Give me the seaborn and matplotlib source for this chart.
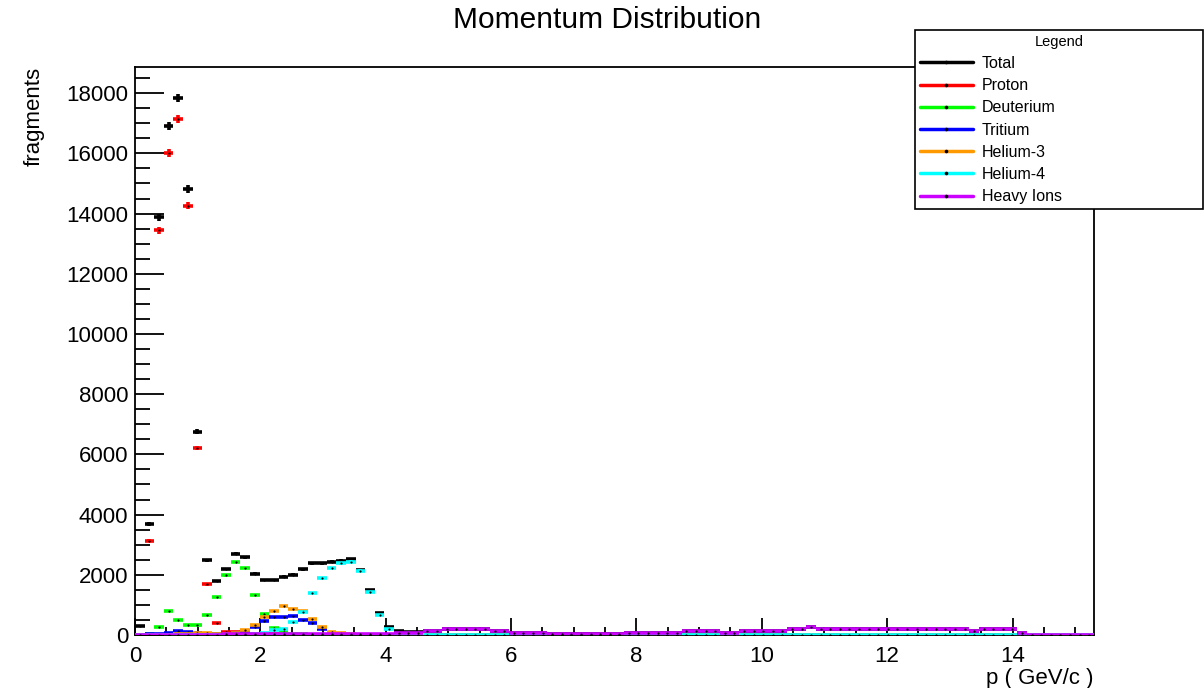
import numpy as np
import seaborn as sns
import matplotlib.pyplot as plt
from matplotlib.lines import Line2D
from matplotlib.ticker import MultipleLocator

# histogram binning: 100 bins from 0 to 15.3 GeV/c
p_min, p_max, n_bins = 0.0, 15.3, 100

# bin contents
total = [
    300, 3690, 13880, 16910, 17830, 14820, 6750, 2490, 1790, 2190,
    2700, 2590, 2040, 1830, 1830, 1940, 2000, 2180, 2380, 2380,
    2440, 2470, 2515, 2160, 1495, 720, 250, 120, 85, 90,
    140, 140, 200, 200, 200, 200, 200, 140, 140, 75,
    75, 75, 75, 25, 25, 25, 25, 25, 25, 25,
    25, 75, 75, 75, 75, 75, 75, 140, 140, 140,
    140, 75, 75, 140, 140, 140, 140, 140, 200, 200,
    275, 200, 200, 200, 200, 200, 200, 200, 200, 200,
    200, 200, 200, 200, 200, 200, 200, 140, 200, 200,
    200, 200, 75, 0, 0, 0, 0, 0, 0, 0,
]
# light fragments only populate the first 30 bins
proton = [0, 3130, 13450, 16020, 17130, 14260, 6210, 1680, 390, 100,
          90, 40, 40, 20, 20, 10, 10, 10, 0, 0]
deuterium = [0, 30, 280, 790, 490, 320, 320, 675, 1270, 1980,
             2425, 2225, 1340, 690, 220, 100, 30, 20, 10, 10]
tritium = [0, 20, 40, 80, 140, 110, 60, 30, 20, 30,
           60, 110, 255, 475, 590, 590, 630, 500, 390, 190,
           80, 30, 10]
helium3 = [0, 0, 0, 0, 20, 30, 50, 50, 40, 30,
           60, 165, 330, 600, 800, 975, 865, 810, 530, 275,
           110, 55, 20, 10]
helium4 = [0, 0, 0, 0, 0, 0, 0, 0, 0, 0,
           0, 10, 30, 60, 150, 200, 440, 780, 1385, 1880,
           2225, 2380, 2435, 2135, 1440, 665, 190, 40, 10, 10]
heavy = [
    0, 0, 0, 0, 0, 0, 0, 0, 0, 20,
    20, 20, 20, 20, 20, 20, 20, 20, 20, 20,
    20, 20, 20, 20, 20, 20, 40, 75, 75, 75,
    140, 140, 200, 200, 200, 200, 200, 140, 140, 75,
    75, 75, 75, 25, 25, 25, 25, 25, 25, 25,
    25, 75, 75, 75, 75, 75, 75, 140, 140, 140,
    140, 75, 75, 140, 140, 140, 140, 140, 200, 200,
    275, 200, 200, 200, 200, 200, 200, 200, 200, 200,
    200, 200, 200, 200, 200, 200, 200, 140, 200, 200,
    200, 200, 75, 0, 0, 0, 0, 0, 0, 0,
]

names = ["Total", "Proton", "Deuterium", "Tritium", "Helium-3", "Helium-4", "Heavy Ions"]
series = [total, proton, deuterium, tritium, helium3, helium4, heavy]
colors = ["#000000", "#ff0000", "#00ff00", "#0000ff", "#ff9900", "#00ffff", "#cc00ff"]

sns.set_style("ticks")
plt.rcParams["font.family"] = ["Liberation Sans", "DejaVu Sans"]
plt.rcParams["text.color"] = "black"
plt.rcParams["axes.labelcolor"] = "black"

edges = np.linspace(p_min, p_max, n_bins + 1)
centers = 0.5 * (edges[:-1] + edges[1:])
half = 0.5 * (edges[1] - edges[0])

fig = plt.figure(figsize=(12.04, 6.88), dpi=100)
ax = fig.add_axes([135 / 1204, 1 - 635 / 688, 959 / 1204, 568 / 688])

for i, (vals, c) in enumerate(zip(series, colors)):
    y = np.array(vals + [0] * (n_bins - len(vals)), dtype=float)
    ax.errorbar(centers, y, xerr=half, yerr=np.sqrt(y), fmt="none",
                ecolor=c, elinewidth=2.6, capsize=0, zorder=3 + 2 * i)
    sns.scatterplot(x=centers, y=y, color="black", s=2.5, linewidth=0,
                    ax=ax, zorder=4 + 2 * i, legend=False)

ax.set_xlim(p_min, p_max)
ax.set_ylim(0, 18870)
ax.xaxis.set_major_locator(MultipleLocator(2))
ax.xaxis.set_minor_locator(MultipleLocator(0.5))
ax.yaxis.set_major_locator(MultipleLocator(2000))
ax.yaxis.set_minor_locator(MultipleLocator(500))
ax.tick_params(axis="both", which="both", direction="in", width=1.3,
               colors="black", labelsize=16)
ax.tick_params(axis="y", which="major", length=21, pad=5)
ax.tick_params(axis="y", which="minor", length=11)
ax.tick_params(axis="x", which="major", length=12, pad=8)
ax.tick_params(axis="x", which="minor", length=6)
for s in ax.spines.values():
    s.set_linewidth(1.3)
    s.set_color("black")

ax.set_xlabel("p ( GeV/c )", fontsize=16, loc="right", labelpad=0)
ax.xaxis.set_label_coords(1.0, -0.058)
ax.set_ylabel("fragments", fontsize=16, loc="top")
ax.yaxis.set_label_coords(-0.094, 1.0)

fig.text(0.504, 1 - 20 / 688, "Momentum Distribution", fontsize=21.5,
         ha="center", va="center")

handles = [Line2D([], [], color=c, lw=2.5, marker="o", ms=1.6,
                  mfc="black", mec="black") for c in colors]
leg = fig.legend(handles, names, loc="upper left",
                 bbox_to_anchor=(915 / 1204, 1 - 209 / 688, 288 / 1204, 179 / 688),
                 mode="expand", fontsize=11.5, title="Legend", title_fontsize=10.5,
                 frameon=True, fancybox=False, framealpha=1, edgecolor="black",
                 handlelength=3.3, handletextpad=0.6, labelspacing=0.45,
                 borderpad=0.3, borderaxespad=0)
leg.get_frame().set_linewidth(1.2)

fig.savefig("out.png", dpi=100)
